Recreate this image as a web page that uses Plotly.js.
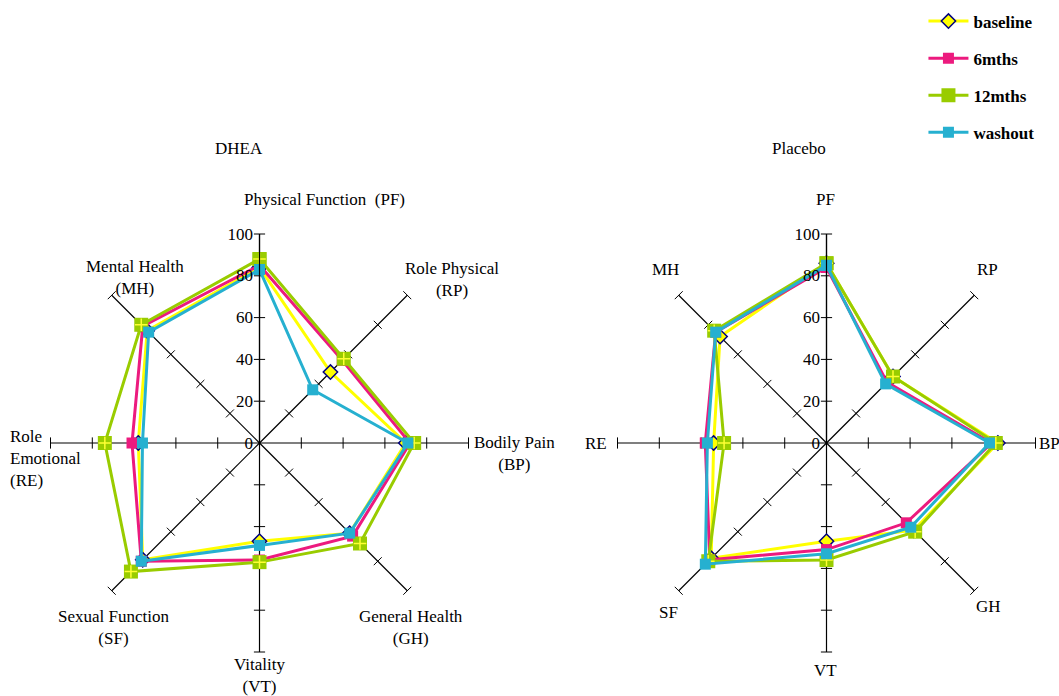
<!DOCTYPE html>
<html>
<head>
<meta charset="utf-8">
<script src="https://cdn.plot.ly/plotly-3.0.1.min.js"></script>
<style>html,body{margin:0;padding:0;background:#fff}#chart{width:1059px;height:696px}</style>
</head>
<body>
<div id="chart"></div>
<script>
// ---- data ----
const categories = ['PF', 'RP', 'BP', 'GH', 'VT', 'SF', 'RE', 'MH'];
const dheaLabels = ['Physical Function  (PF)', 'Role Physical<br>(RP)', 'Bodily Pain<br>(BP)', 'General Health<br>(GH)',
  'Vitality<br>(VT)', 'Sexual Function<br>(SF)', 'Role<br>Emotional<br>(RE)', 'Mental Health<br>(MH)'];
const placeboLabels = ['PF', 'RP', 'BP', 'GH', 'VT', 'SF', 'RE', 'MH'];
const seriesNames = ['baseline', '6mths', '12mths', 'washout'];
const panelTitles = ['DHEA', 'Placebo'];
const radialTicks = [0, 20, 40, 60, 80, 100];

const dheaBaseline = [84, 48, 70, 61, 47, 79, 58, 76];
const dhea6mths    = [85, 56, 72, 63, 56, 80, 61, 79];
const dhea12mths   = [88, 57, 74, 68, 57, 87, 74, 80];
const dheaWashout  = [83, 36, 71, 61, 49, 80, 56, 75];

const placeboBaseline = [86, 45, 82, 59, 47, 78, 54, 72];
const placebo6mths    = [84, 41, 79, 54, 51, 79, 58, 75];
const placebo12mths   = [86, 45, 81, 60, 56, 80, 49, 76];
const placeboWashout  = [85, 40, 78, 57, 53, 82, 57, 75];

// ---- styles ----
const FONT = '"Liberation Serif", "Times New Roman", serif';
const styles = [
  {line: '#ffff00', marker: {symbol: 'diamond', size: 11, color: '#ffff00', line: {color: '#000080', width: 1.5}}},
  {line: '#ec1a7e', marker: {symbol: 'square', size: 11, color: '#ec1a7e', line: {width: 0}}},
  {line: '#99cc00', marker: {symbol: 'square', size: 14, color: '#99cc00', line: {width: 0}}},
  {line: '#26b0d0', marker: {symbol: 'square', size: 11, color: '#26b0d0', line: {width: 0}}}
];
const crossStyle = {symbol: 'cross-thin', size: 9, color: '#ffff33', line: {color: '#ffff33', width: 1.5}};

const close = a => a.concat([a[0]]);
const traces = [];

function spokeTicks(subplot) {
  const th = [], r = [], ang = [];
  categories.forEach((c, i) => {
    radialTicks.slice(1).forEach(v => { th.push(c); r.push(v); ang.push(i * 45); });
  });
  return {
    type: 'scatterpolar', subplot: subplot, mode: 'markers', theta: th, r: r,
    marker: {symbol: 'line-ew', size: 8, angle: ang, color: '#000', line: {color: '#000', width: 1}},
    showlegend: false, hoverinfo: 'skip'
  };
}

[[dheaBaseline, dhea6mths, dhea12mths, dheaWashout], [placeboBaseline, placebo6mths, placebo12mths, placeboWashout]]
  .forEach((group, p) => {
    const subplot = p === 0 ? 'polar' : 'polar2';
    traces.push(spokeTicks(subplot));
    group.forEach((vals, s) => {
      traces.push({
        type: 'scatterpolar', subplot: subplot, mode: 'lines+markers',
        name: seriesNames[s], legendgroup: seriesNames[s], showlegend: p === 0,
        theta: close(categories), r: close(vals),
        line: {color: styles[s].line, width: 3},
        marker: styles[s].marker
      });
      if (s === 2) {
        // yellow cross drawn inside the 12mths square markers
        traces.push({
          type: 'scatterpolar', subplot: subplot, mode: 'markers',
          name: seriesNames[s], legendgroup: seriesNames[s], showlegend: false,
          theta: categories, r: vals, marker: crossStyle, hoverinfo: 'skip'
        });
      }
    });
  });

function polarLayout(xd) {
  return {
    domain: {x: xd, y: [0.06322, 0.66379]},
    bgcolor: 'rgba(0,0,0,0)',
    radialaxis: {
      range: [0, 100], angle: 90, side: 'counterclockwise', tickangle: 90, tickvals: radialTicks,
      showgrid: false, showline: true, linecolor: '#000', linewidth: 1.2, ticks: '',
      tickfont: {family: FONT, size: 17, color: '#000'}
    },
    angularaxis: {
      type: 'category', categoryarray: categories, direction: 'clockwise', rotation: 90,
      showgrid: true, gridcolor: '#000', gridwidth: 1.2, showline: false,
      showticklabels: false, ticks: ''
    }
  };
}

// label placement: [x, y, xanchor, align]
const labelPos = {
  dhea: [[324, 199, 'center'], [452, 279, 'center'], [514, 453, 'center'], [411, 627, 'center'],
         [259, 675, 'center'], [113, 627, 'center'], [8, 458, 'left'], [135, 278, 'center']],
  placebo: [[825, 199, 'center'], [987, 269, 'center'], [1049, 443, 'center'], [988, 606, 'center'],
            [825, 670, 'center'], [668, 612, 'center'], [596, 443, 'center'], [665, 269, 'center']]
};
const W = 1059, H = 696;
const annotations = [];
function addLabel(t, pos) {
  const anchor = pos[2] || 'center';
  annotations.push({
    text: t, xref: 'paper', yref: 'paper', x: pos[0] / W, y: 1 - pos[1] / H,
    xanchor: anchor, yanchor: 'middle', align: anchor,
    showarrow: false, font: {family: FONT, size: 17, color: '#000'}
  });
}
dheaLabels.forEach((t, i) => addLabel(t, labelPos.dhea[i]));
placeboLabels.forEach((t, i) => addLabel(t, labelPos.placebo[i]));
const titlePos = [[239, 148], [799, 148]];
panelTitles.forEach((t, i) => addLabel(t, titlePos[i]));

const layout = {
  width: W, height: H,
  margin: {l: 0, r: 0, t: 0, b: 0},
  paper_bgcolor: '#fff',
  showlegend: true,
  legend: {
    x: 0.872, y: 0.995, xanchor: 'left', yanchor: 'top',
    font: {family: FONT, size: 17, color: '#000', weight: 'bold'},
    tracegroupgap: 12, itemwidth: 40, bgcolor: 'rgba(0,0,0,0)'
  },
  polar: polarLayout([0.04769, 0.44240]),
  polar2: polarLayout([0.58310, 0.97781]),
  annotations: annotations
};

Plotly.newPlot('chart', traces, layout, {displayModeBar: false, staticPlot: true});
</script>
</body>
</html>
